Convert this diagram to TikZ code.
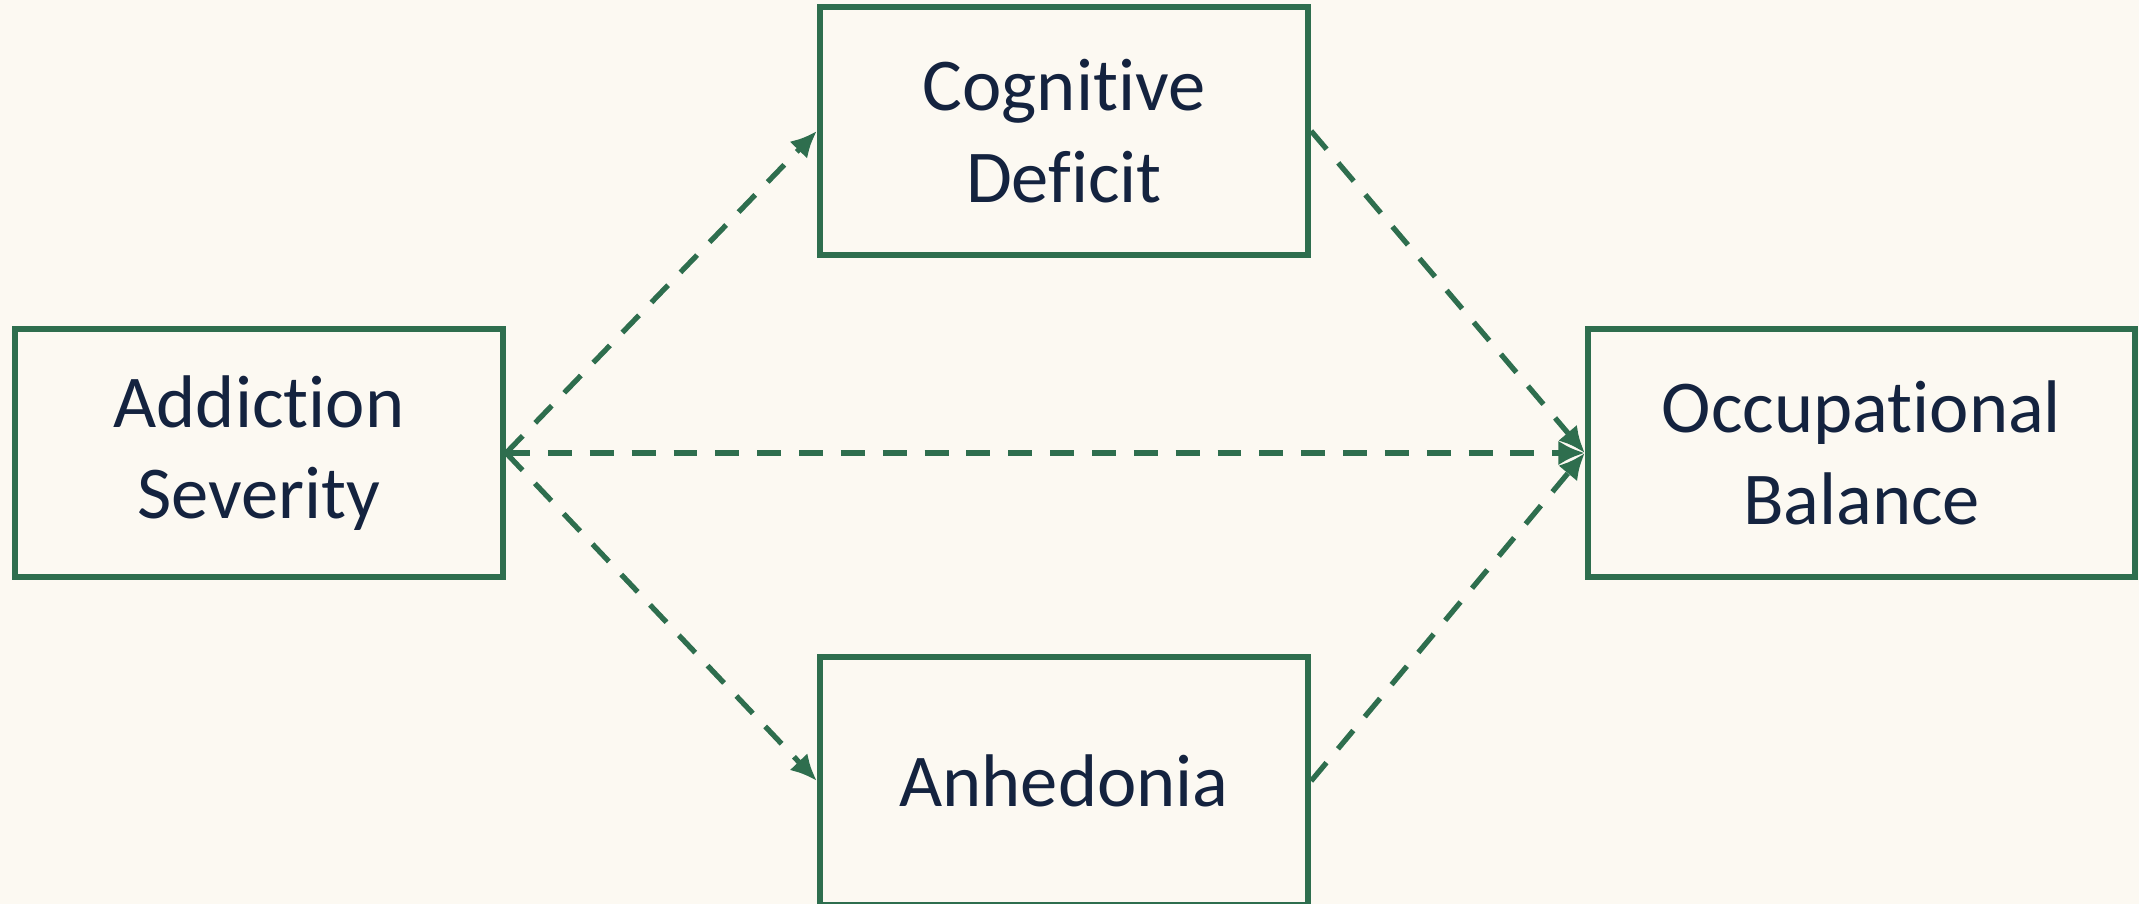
\documentclass[tikz,border=0pt]{standalone}
\usepackage{fontspec}
\setmainfont{Carlito}[Ligatures=NoCommon]
\usetikzlibrary{arrows.meta}
\definecolor{bgcream}{HTML}{FCF9F2}
\definecolor{boxgreen}{HTML}{2E6E4E}
\definecolor{textnavy}{HTML}{14233F}

\begin{document}
\begin{tikzpicture}[x=0.01cm, y=-0.01cm,
        varbox/.style={draw=boxgreen, line width=1.7pt, minimum width=4.88cm, minimum height=2.48cm,
          align=center, text=textnavy, font=\fontsize{21.2}{26}\selectfont, inner sep=0pt},
        linkarrow/.style={draw=boxgreen, line width=1.5pt, dash pattern=on 6.8pt off 5.1pt,
          -{Latex[length=7.5pt,width=7pt]}}]
        \fill[bgcream] (0,0) rectangle (2139,904);
        \useasboundingbox (0,0) rectangle (2139,904);

        \node[varbox] (AS) at (259,453) {Addiction\\Severity};
        \node[varbox] (CD) at (1064,131) {Cognitive\\Deficit};
        \node[varbox] (AN) at (1064,781) {Anhedonia};
        \node[varbox, minimum width=5.47cm] (OB) at (1861.5,453) {Occupational\\Balance};

        \draw[linkarrow] (AS.east) -- (CD.west);
        \draw[linkarrow] (AS.east) -- (AN.west);
        \draw[linkarrow] (AS.east) -- (OB.west);
        \draw[linkarrow] (CD.east) -- (OB.west);
        \draw[linkarrow] (AN.east) -- (OB.west);
\end{tikzpicture}
\end{document}
